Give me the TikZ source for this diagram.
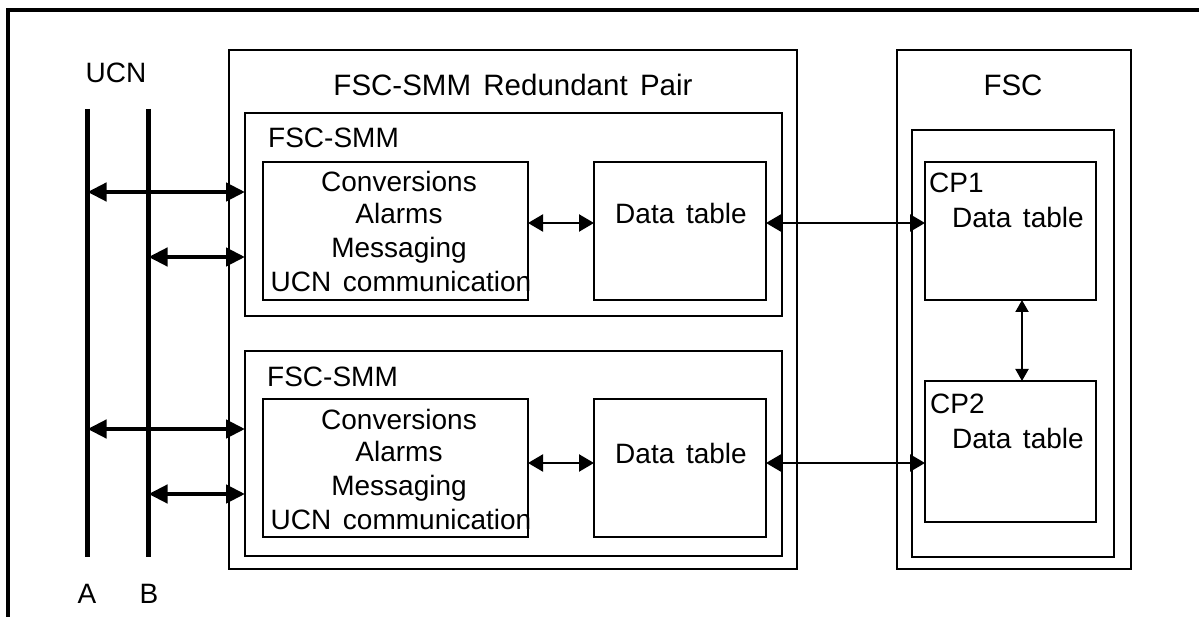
\documentclass[tikz,border=0pt]{standalone}
\usepackage{fontspec}
\setmainfont{Liberation Sans}[WordSpace=1.5]
\usetikzlibrary{arrows.meta}
\begin{document}
\begin{tikzpicture}[x=1pt,y=-1pt,
  box/.style={draw, line width=2.5pt, inner sep=0pt, outer sep=0pt, anchor=north west},
  lbl/.style={inner sep=0pt, anchor=base, font=\fontsize{28pt}{33pt}\selectfont},
  lblw/.style={lbl, anchor=base west},
  title/.style={lbl, font=\fontsize{29.5pt}{34pt}\selectfont},
  bus/.style={line width=4.6pt},
  thickarrow/.style={line width=4.3pt, {Triangle[length=19pt,width=18pt]}-{Triangle[length=19pt,width=18pt]}},
  thinarrow/.style={line width=2.2pt, {Triangle[length=15pt,width=17pt]}-{Triangle[length=15pt,width=17pt]}},
  vertarrow/.style={line width=2pt, {Triangle[length=12pt,width=13pt]}-{Triangle[length=12pt,width=13pt]}}
]
\useasboundingbox (0,0) rectangle (1199,617);
% outer frame
\draw[line width=3.3pt] (8,617) -- (8,10) -- (1199,10);

% boxes
\node[box, minimum width=568pt, minimum height=519pt] (pair) at (229,50) {};
\node[box, minimum width=537pt, minimum height=203pt] (smm1) at (245,113) {};
\node[box, minimum width=537pt, minimum height=205pt] (smm2) at (245,351) {};
\node[box, minimum width=265pt, minimum height=138pt] (conv1) at (263,162) {};
\node[box, minimum width=172pt, minimum height=138pt] (dt1) at (594,162) {};
\node[box, minimum width=265pt, minimum height=138pt] (conv2) at (263,399) {};
\node[box, minimum width=172pt, minimum height=138pt] (dt2) at (594,399) {};
\node[box, minimum width=234pt, minimum height=519pt] (fsc) at (897,50) {};
\node[box, minimum width=202pt, minimum height=427pt] (fscin) at (912,130) {};
\node[box, minimum width=171pt, minimum height=138pt] (cp1) at (925,162) {};
\node[box, minimum width=171pt, minimum height=141pt] (cp2) at (925,381) {};

% labels
\node[lbl] (ucn) at (116,83) {UCN};
\node[lbl] (la) at (87,603) {A};
\node[lbl] (lb) at (149,603) {B};
\node[title] (ttl) at (513,96) {FSC-SMM Redundant Pair};
\node[title] (tfsc) at (1013,96) {FSC};
\node[lblw] (t1) at (268,148) {FSC-SMM};
\node[lblw] (t2) at (267,386) {FSC-SMM};

\node[lbl] (c1a) at (399,192) {Conversions};
\node[lbl] (c1b) at (399,224) {Alarms};
\node[lbl] (c1c) at (399,258) {Messaging};
\node[lbl] (c1d) at (401,292) {UCN communication};
\node[lbl] (c2a) at (399,429) {Conversions};
\node[lbl] (c2b) at (399,461) {Alarms};
\node[lbl] (c2c) at (399,495) {Messaging};
\node[lbl] (c2d) at (401,529) {UCN communication};

\node[lbl] (d1) at (681,224) {Data table};
\node[lbl] (d2) at (681,463) {Data table};

\node[lblw] (cp1t) at (929,193) {CP1};
\node[lblw] (cp1d) at (952,228) {Data table};
\node[lblw] (cp2t) at (930,413) {CP2};
\node[lblw] (cp2d) at (952,448) {Data table};

% UCN buses
\coordinate (A) at (87.5,109);
\coordinate (Aend) at (87.5,557);
\coordinate (B) at (148.5,109);
\coordinate (Bend) at (148.5,557);
\draw[bus] (A) -- (Aend);
\draw[bus] (B) -- (Bend);

\coordinate (a1) at (87.5,192);
\coordinate (b1) at (148.5,257);
\coordinate (a2) at (87.5,429);
\coordinate (b2) at (148.5,494);
\draw[thickarrow] (a1) -- (smm1.west |- a1);
\draw[thickarrow] (b1) -- (smm1.west |- b1);
\draw[thickarrow] (a2) -- (smm2.west |- a2);
\draw[thickarrow] (b2) -- (smm2.west |- b2);

% internal connectors
\coordinate (r1) at ([yshift=8pt]conv1.east);
\coordinate (r2) at ([yshift=5pt]conv2.east);
\draw[thinarrow] (r1) -- (dt1.west |- r1);
\draw[thinarrow] (r2) -- (dt2.west |- r2);
\draw[thinarrow] (dt1.east |- r1) -- (cp1.west |- r1);
\draw[thinarrow] (dt2.east |- r2) -- (cp2.west |- r2);
\draw[vertarrow] ([xshift=11.5pt]cp1.south) -- ([xshift=11.5pt]cp2.north);
\end{tikzpicture}
\end{document}
